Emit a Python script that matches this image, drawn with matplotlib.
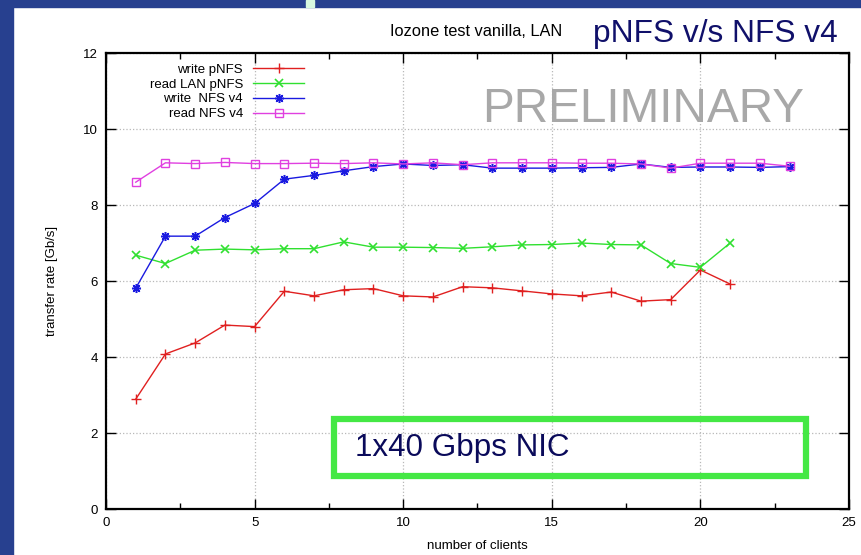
import matplotlib
matplotlib.use('Agg')
import matplotlib.pyplot as plt
from matplotlib.patches import Rectangle
from matplotlib.ticker import MultipleLocator

plt.rcParams['font.family'] = ['Liberation Sans', 'DejaVu Sans']

# iozone results, transfer rate in Gb/s vs number of clients
clients_pnfs = list(range(1, 22))
clients_nfs4 = list(range(1, 24))

write_pnfs = [2.89, 4.08, 4.37, 4.84, 4.80, 5.73, 5.61, 5.77, 5.80, 5.61, 5.58,
              5.85, 5.82, 5.74, 5.66, 5.61, 5.71, 5.47, 5.51, 6.29, 5.92]
read_lan_pnfs = [6.68, 6.46, 6.81, 6.84, 6.82, 6.85, 6.85, 7.03, 6.89, 6.89, 6.88,
                 6.86, 6.90, 6.95, 6.96, 7.00, 6.96, 6.95, 6.46, 6.36, 7.00]
write_nfs4 = [5.81, 7.18, 7.18, 7.67, 8.04, 8.68, 8.78, 8.90, 9.01, 9.08, 9.04, 9.06,
              8.97, 8.97, 8.97, 8.98, 8.99, 9.08, 8.99, 9.00, 9.00, 8.99, 9.01]
read_nfs4 = [8.60, 9.11, 9.09, 9.12, 9.09, 9.09, 9.10, 9.09, 9.11, 9.08, 9.11, 9.06,
             9.11, 9.11, 9.11, 9.10, 9.10, 9.08, 8.97, 9.10, 9.10, 9.10, 9.02]

W, H = 862, 555
fig = plt.figure(figsize=(W / 100, H / 100), dpi=100)
fig.patch.set_facecolor('white')

# slide decoration
navy = '#27408f'
fig.add_artist(Rectangle((0, 0), 13 / W, 1, transform=fig.transFigure, color=navy, zorder=0))
fig.add_artist(Rectangle((0, 1 - 7 / H), 1, 7 / H, transform=fig.transFigure, color=navy, zorder=0))
fig.add_artist(Rectangle((306 / W, 1 - 7 / H), 8 / W, 7 / H, transform=fig.transFigure,
                         color='#d8f8e0', zorder=1))

ax = fig.add_axes([106 / W, 46 / H, 743 / W, 456 / H])

ax.plot(clients_pnfs, write_pnfs, color='#e02020', lw=1, marker='+', ms=7, mew=1,
        label='write pNFS')
ax.plot(clients_pnfs, read_lan_pnfs, color='#30e030', lw=1, marker='x', ms=6, mew=1.2,
        label='read LAN pNFS')
ax.plot(clients_nfs4, write_nfs4, color='#1a1ae0', lw=1, marker=(8, 2, 0), ms=6.5, mew=1.1,
        label='write  NFS v4')
ax.plot(clients_nfs4, read_nfs4, color='#e040e0', lw=1, marker='s', ms=5.5, mew=1,
        mfc='none', label='read NFS v4')

ax.set_xlim(0, 25)
ax.set_ylim(0, 12)
ax.xaxis.set_major_locator(MultipleLocator(5))
ax.xaxis.set_minor_locator(MultipleLocator(2.5))
ax.yaxis.set_major_locator(MultipleLocator(2))
ax.tick_params(which='both', direction='in', top=True, right=True, labelsize=9.5, pad=6)
ax.tick_params(which='major', length=7, width=1)
ax.tick_params(which='minor', length=4, width=1)
for s in ax.spines.values():
    s.set_linewidth(1.6)
ax.grid(True, which='major', linestyle=':', color='#b8b8b8', linewidth=0.9)

ax.set_xlabel('number of clients', fontsize=9.5, labelpad=8)
ax.set_ylabel('transfer rate [Gb/s]', fontsize=9.5, labelpad=18)

leg = ax.legend(loc='upper right', bbox_to_anchor=(0.266, 0.977), frameon=False,
                markerfirst=False, fontsize=9.5, handlelength=3.8, handletextpad=0.8,
                labelspacing=0.2, borderpad=0, borderaxespad=0)

# annotations
fig.text(390 / W, 1 - 31 / H, 'Iozone test vanilla, LAN', fontsize=11.8, va='center', ha='left')
fig.text(593 / W, 1 - 34 / H, 'pNFS v/s NFS v4', fontsize=22.8, color='#10106a',
         va='center', ha='left')
fig.text(482 / W, 1 - 110 / H, 'PRELIMINARY', fontsize=34.4, color='#a8a8a8',
         va='center', ha='left')

fig.add_artist(Rectangle((334 / W, 1 - 476 / H), 472 / W, 57 / H, transform=fig.transFigure,
                         fill=False, edgecolor='#44e844', linewidth=4.5, zorder=5))
fig.text(355 / W, 1 - 448 / H, '1x40 Gbps NIC', fontsize=22.6, color='#0a0a5a',
         va='center', ha='left', zorder=6)

fig.savefig('out.png', dpi=100)
